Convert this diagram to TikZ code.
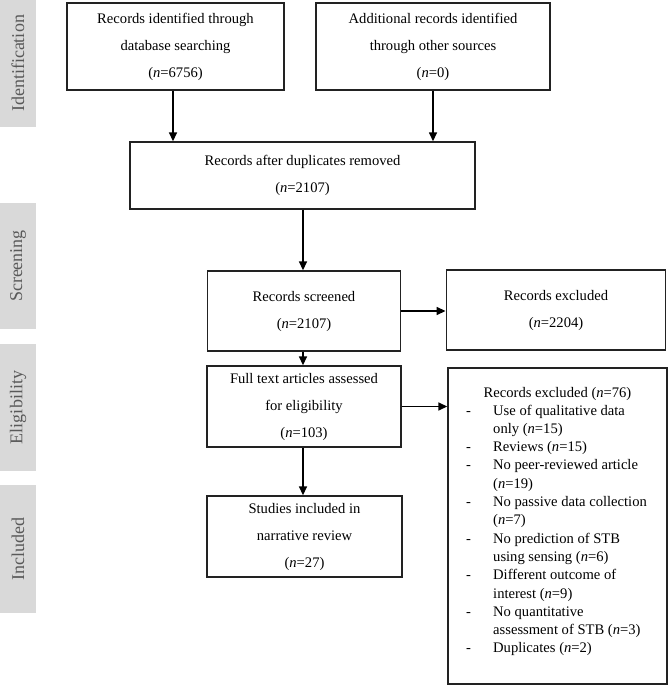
\documentclass[tikz,border=0pt]{standalone}
\usepackage{fontspec}
\setmainfont{Liberation Serif}
\usetikzlibrary{arrows.meta}
\definecolor{sidegray}{HTML}{D9D9D9}
\definecolor{sidetext}{HTML}{595959}
\definecolor{boxline}{HTML}{222222}
\begin{document}
\begin{tikzpicture}[x=1pt,y=1pt,
  box/.style={draw=boxline,line width=1.4pt,align=center,inner sep=0pt,
    font=\fontsize{14.6}{27}\selectfont},
  side/.style={fill=sidegray,draw=none,inner sep=0pt,
    text=sidetext,font=\fontsize{18}{20}\selectfont},
  arr/.style={line width=1.5pt,draw=black,-{Triangle[length=9pt,width=8pt]}},
  listtxt/.style={inner sep=0pt,font=\fontsize{14.6}{18.3}\selectfont}
]
\useasboundingbox (0,0) rectangle (668,-685);
% side labels
\node[side,rotate=90,minimum width=127pt,minimum height=36pt] (sIdent) at (18,-63.5) {Identification};
\node[side,rotate=90,minimum width=126pt,minimum height=36pt] (sScreen) at (18,-266) {Screening};
\node[side,rotate=90,minimum width=127pt,minimum height=36pt] (sElig) at (18,-407.5) {Eligibility};
\node[side,rotate=90,minimum width=128pt,minimum height=36pt] (sIncl) at (18,-549) {Included};
% boxes
\node[box,minimum width=217pt,minimum height=87pt] (b1) at (175.5,-46.5)
  {Records identified through\\database searching\\(\textit{n}=6756)};
\node[box,minimum width=234pt,minimum height=87pt] (b2) at (433,-46.5)
  {Additional records identified\\through other sources\\(\textit{n}=0)};
\node[box,minimum width=345pt,minimum height=67pt] (b3) at (302.5,-175.5)
  {Records after duplicates removed\\(\textit{n}=2107)};
\node[box,minimum width=193pt,minimum height=80pt] (b4) at (304,-311)
  {Records screened\\(\textit{n}=2107)};
\node[box,minimum width=219.5pt,minimum height=80pt] (b5) at (556,-310)
  {Records excluded\\(\textit{n}=2204)};
\node[box,minimum width=194pt,minimum height=81pt] (b6) at (304,-406.5)
  {Full text articles assessed\\for eligibility\\(\textit{n}=103)};
\node[box,minimum width=195pt,minimum height=81pt] (b7) at (304.5,-536.5)
  {Studies included in\\narrative review\\(\textit{n}=27)};
\node[box,minimum width=219pt,minimum height=316pt] (b8) at (557.5,-526) {};
\node[listtxt,anchor=base] (exTitle) at (557.5,-397.5) {Records excluded (\textit{n}=76)};
\node[listtxt,anchor=north west] (exList) at (466,-402)
  {\begin{tabular}{@{}p{27pt}@{}l@{}}
  - & Use of qualitative data\\
    & only (\textit{n}=15)\\
  - & Reviews (\textit{n}=15)\\
  - & No peer-reviewed article\\
    & (\textit{n}=19)\\
  - & No passive data collection\\
    & (\textit{n}=7)\\
  - & No prediction of STB\\
    & using sensing (\textit{n}=6)\\
  - & Different outcome of\\
    & interest (\textit{n}=9)\\
  - & No quantitative\\
    & assessment of STB (\textit{n}=3)\\
  - & Duplicates (\textit{n}=2)
  \end{tabular}};
% arrows
\draw[arr] (b1.south -| 173,0) -- (b3.north -| 173,0);
\draw[arr] (b2.south) -- (b2.south |- b3.north);
\draw[arr] (b3.south -| 303,0) -- (b4.north -| 303,0);
\draw[arr] (b4.east) -- (b5.west |- b4.east);
\draw[arr] (b4.south -| 303,0) -- (b6.north -| 303,0);
\draw[arr] (b6.east) -- (b8.west |- b6.east);
\draw[arr] (b6.south -| 303,0) -- (b7.north -| 303,0);
\end{tikzpicture}
\end{document}
